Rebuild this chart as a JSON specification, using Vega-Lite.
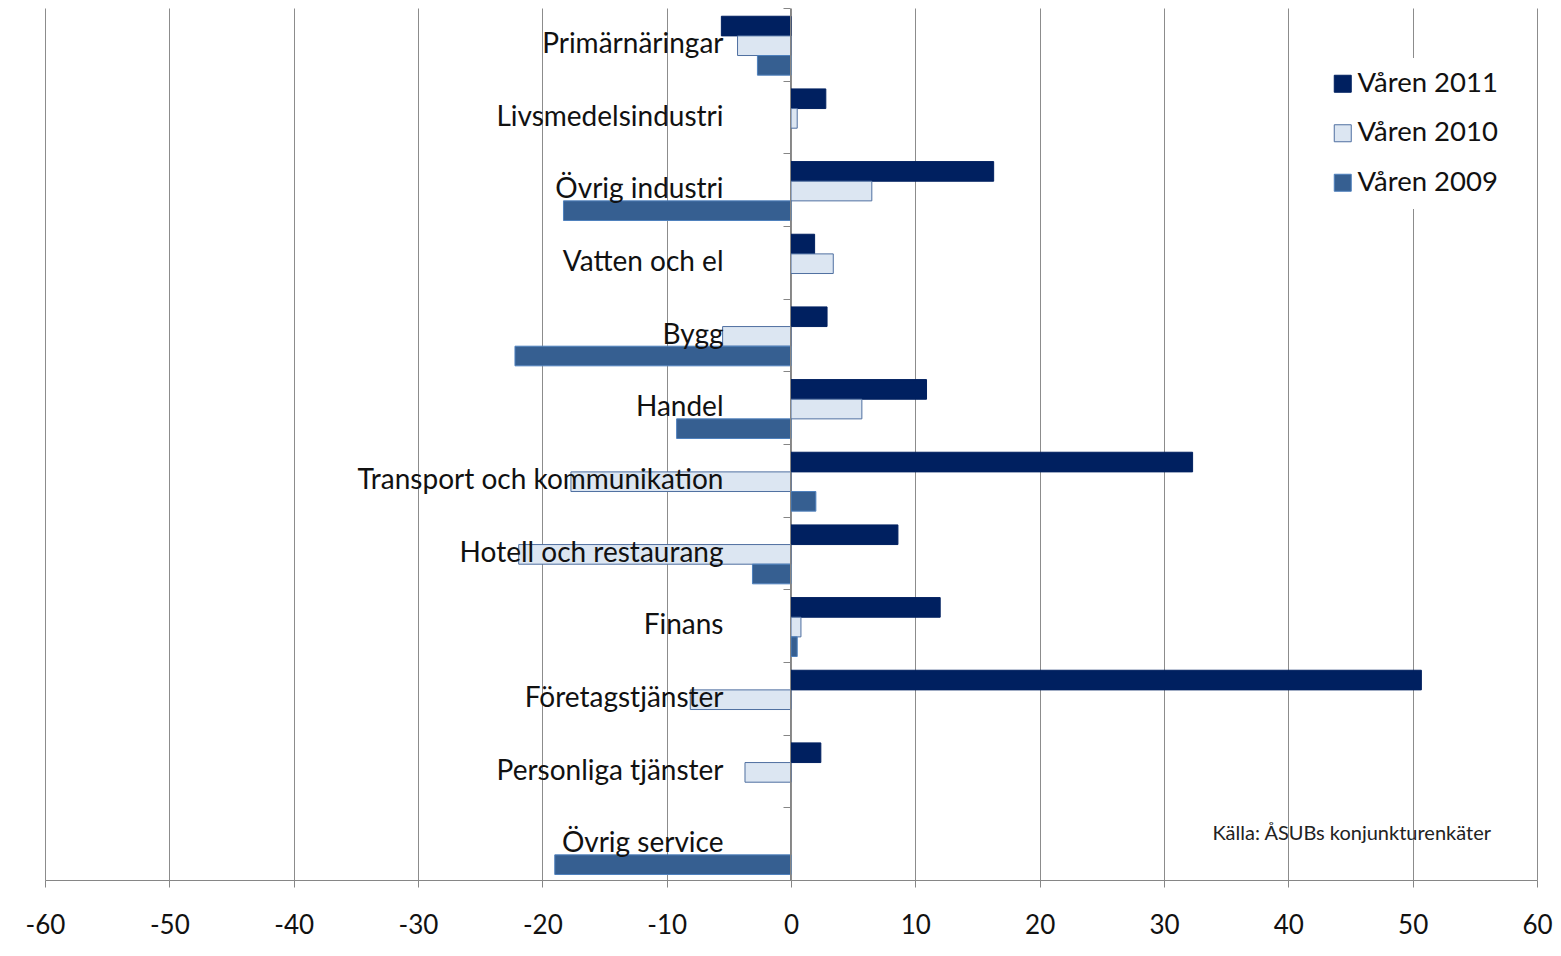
{
  "$schema": "https://vega.github.io/schema/vega-lite/v6.json",
  "autosize": {"type": "none"},
  "width": 1492,
  "height": 872,
  "padding": {"left": 45, "top": 8, "right": 24, "bottom": 76},
  "background": "white",
  "config": {
    "font": "Lato",
    "view": {"stroke": null}
  },
  "layer": [
    {
      "data": {
        "values": [
          {"bransch": "Primärnäringar", "serie": "Våren 2011", "varde": -5.6},
          {"bransch": "Primärnäringar", "serie": "Våren 2010", "varde": -4.3},
          {"bransch": "Primärnäringar", "serie": "Våren 2009", "varde": -2.7},
          {"bransch": "Livsmedelsindustri", "serie": "Våren 2011", "varde": 2.8},
          {"bransch": "Livsmedelsindustri", "serie": "Våren 2010", "varde": 0.5},
          {"bransch": "Övrig industri", "serie": "Våren 2011", "varde": 16.3},
          {"bransch": "Övrig industri", "serie": "Våren 2010", "varde": 6.5},
          {"bransch": "Övrig industri", "serie": "Våren 2009", "varde": -18.3},
          {"bransch": "Vatten och el", "serie": "Våren 2011", "varde": 1.9},
          {"bransch": "Vatten och el", "serie": "Våren 2010", "varde": 3.4},
          {"bransch": "Bygg", "serie": "Våren 2011", "varde": 2.9},
          {"bransch": "Bygg", "serie": "Våren 2010", "varde": -5.5},
          {"bransch": "Bygg", "serie": "Våren 2009", "varde": -22.2},
          {"bransch": "Handel", "serie": "Våren 2011", "varde": 10.9},
          {"bransch": "Handel", "serie": "Våren 2010", "varde": 5.7},
          {"bransch": "Handel", "serie": "Våren 2009", "varde": -9.2},
          {"bransch": "Transport och kommunikation", "serie": "Våren 2011", "varde": 32.3},
          {"bransch": "Transport och kommunikation", "serie": "Våren 2010", "varde": -17.7},
          {"bransch": "Transport och kommunikation", "serie": "Våren 2009", "varde": 2.0},
          {"bransch": "Hotell och restaurang", "serie": "Våren 2011", "varde": 8.6},
          {"bransch": "Hotell och restaurang", "serie": "Våren 2010", "varde": -21.9},
          {"bransch": "Hotell och restaurang", "serie": "Våren 2009", "varde": -3.1},
          {"bransch": "Finans", "serie": "Våren 2011", "varde": 12.0},
          {"bransch": "Finans", "serie": "Våren 2010", "varde": 0.8},
          {"bransch": "Finans", "serie": "Våren 2009", "varde": 0.5},
          {"bransch": "Företagstjänster", "serie": "Våren 2011", "varde": 50.7},
          {"bransch": "Företagstjänster", "serie": "Våren 2010", "varde": -8.1},
          {"bransch": "Personliga tjänster", "serie": "Våren 2011", "varde": 2.4},
          {"bransch": "Personliga tjänster", "serie": "Våren 2010", "varde": -3.7},
          {"bransch": "Övrig service", "serie": "Våren 2009", "varde": -19.0}
        ]
      },
      "mark": {"type": "bar", "strokeWidth": 1},
      "encoding": {
        "y": {
          "field": "bransch",
          "type": "nominal",
          "sort": null,
          "scale": {
            "domain": ["Primärnäringar", "Livsmedelsindustri", "Övrig industri", "Vatten och el", "Bygg", "Handel", "Transport och kommunikation", "Hotell och restaurang", "Finans", "Företagstjänster", "Personliga tjänster", "Övrig service"],
            "paddingInner": 0,
            "paddingOuter": 0
          },
          "axis": {
            "title": null,
            "offset": -745,
            "tickBand": "extent",
            "tickSize": 7,
            "tickColor": "#868686",
            "domainColor": "#868686",
            "labelPadding": 60,
            "labelFontSize": 28,
            "labelLimit": 600,
            "labelColor": "#111111",
            "labelFont": "Lato",
            "zindex": 1
          }
        },
        "yOffset": {
          "field": "serie",
          "type": "nominal",
          "scale": {"domain": ["Våren 2011", "Våren 2010", "Våren 2009"], "paddingInner": 0, "paddingOuter": 0.35, "align": 0.6}
        },
        "x": {
          "field": "varde",
          "type": "quantitative",
          "scale": {"domain": [-60, 60], "nice": false, "zero": false},
          "axis": {
            "title": null,
            "values": [-60, -50, -40, -30, -20, -10, 0, 10, 20, 30, 40, 50, 60],
            "labelExpr": "'' + datum.value",
            "labelFlush": false,
            "labelOverlap": false,
            "grid": true,
            "gridColor": "#8c8c8c",
            "gridWidth": 1,
            "domainColor": "#868686",
            "tickColor": "#868686",
            "tickSize": 7,
            "labelPadding": 25,
            "labelFontSize": 26,
            "labelColor": "#111111",
            "labelFont": "Lato",
            "zindex": 0
          }
        },
        "fill": {
          "field": "serie",
          "type": "nominal",
          "scale": {"domain": ["Våren 2011", "Våren 2010", "Våren 2009"], "range": ["#002060", "#dce6f2", "#365f91"]},
          "legend": {
            "title": null,
            "orient": "none",
            "legendX": 1272,
            "legendY": 50,
            "padding": 12,
            "fillColor": "white",
            "symbolType": "square",
            "symbolSize": 289,
            "symbolStrokeColor": "#7f9cc6",
            "symbolStrokeWidth": 1,
            "labelFontSize": 27.5,
            "labelFont": "Lato",
            "labelColor": "#111111",
            "rowPadding": 20.5,
            "labelOffset": 1
          }
        },
        "stroke": {
          "field": "serie",
          "type": "nominal",
          "scale": {"domain": ["Våren 2011", "Våren 2010", "Våren 2009"], "range": ["#002060", "#4f6fa0", "#4f81bd"]},
          "legend": null
        }
      }
    },
    {
      "data": {"values": [{"kalla": "Källa: ÅSUBs konjunkturenkäter", "x": 56.3, "rad": "Övrig service"}]},
      "mark": {"type": "text", "align": "right", "baseline": "middle", "fontSize": 20, "font": "Lato", "fill": "#222222", "dy": -10},
      "encoding": {
        "x": {"field": "x", "type": "quantitative"},
        "y": {"field": "rad", "type": "nominal"},
        "text": {"field": "kalla", "type": "nominal"}
      }
    }
  ]
}
